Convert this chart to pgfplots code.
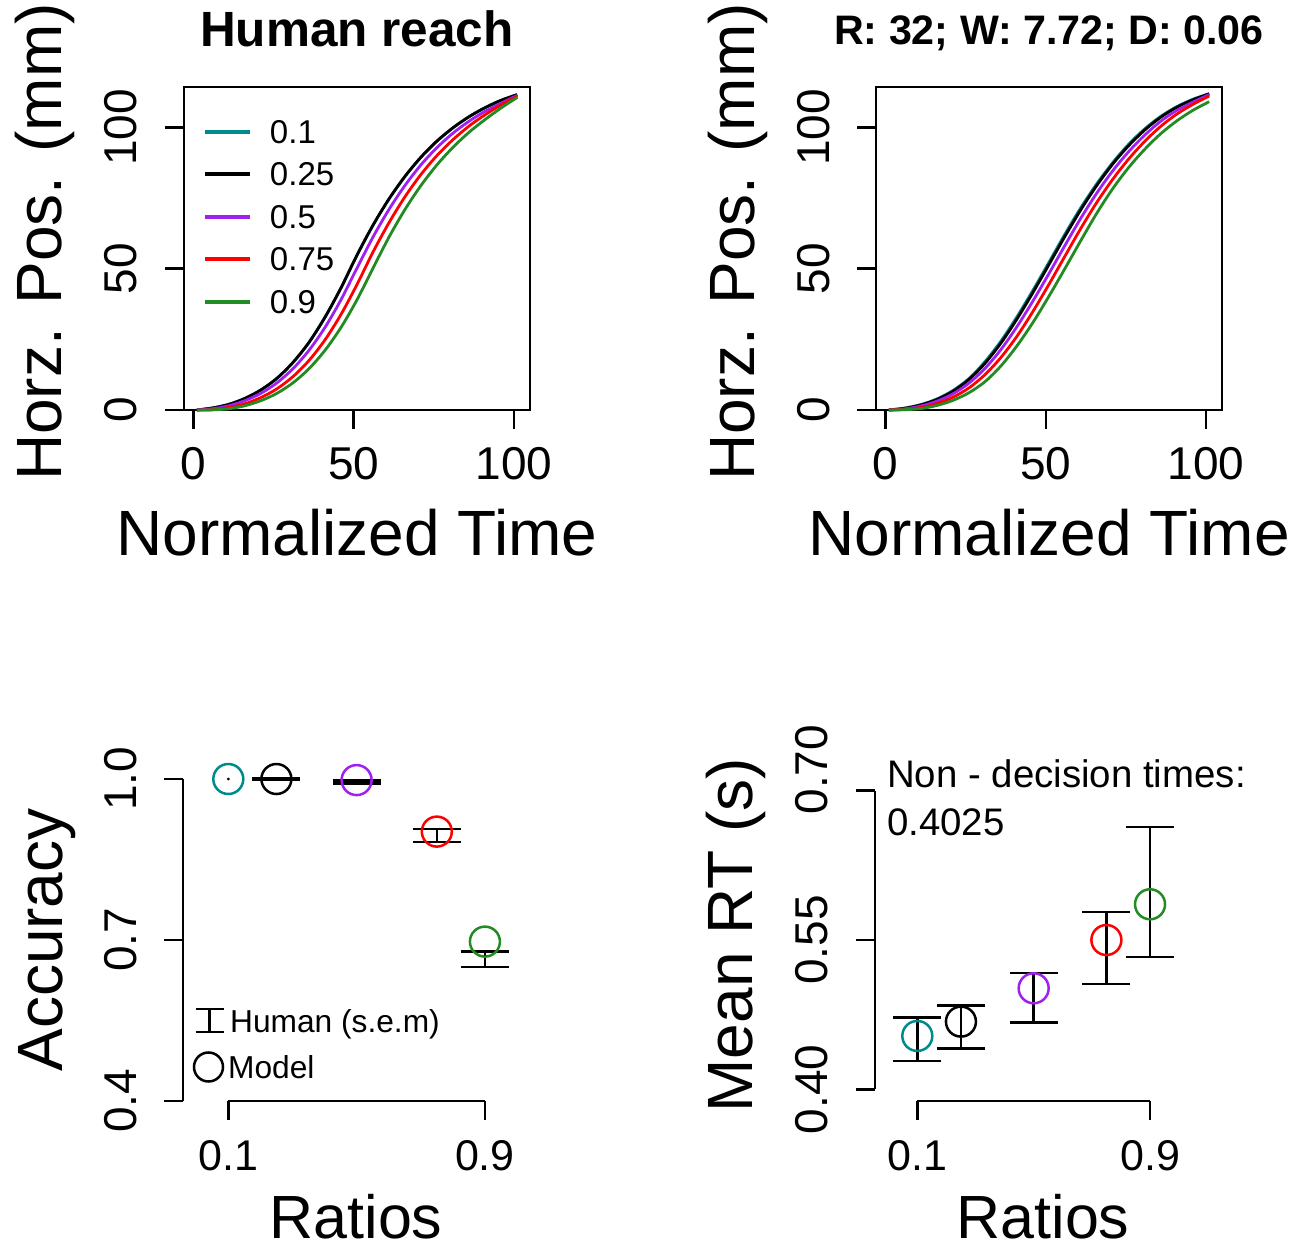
\documentclass[border=0pt]{standalone}
\usepackage{fontspec}
\setmainfont{Liberation Sans}
\usepackage{pgfplots}
\pgfplotsset{compat=1.18}

\definecolor{rteal}{RGB}{0,139,139}
\definecolor{rpurple}{RGB}{160,32,240}
\definecolor{rred}{RGB}{255,0,0}
\definecolor{rgreen}{RGB}{34,139,34}

\newcommand{\fs}[1]{\fontsize{#1}{#1}\selectfont}

\pgfplotsset{
  rbase/.style={
    scale only axis, clip=false, anchor=south west,
    tick align=outside, major tick length=19pt,
    tick style={black, line width=2.6pt},
    axis line style={black, line width=2.8pt},
    tick label style={font=\fs{46}, inner sep=0pt},
    label style={font=\fs{64}, inner sep=0pt},
    every axis title shift=0pt,
  },
  curve/.style={line width=2.8pt, smooth, mark=none},
  model/.style={only marks, mark=o, mark size=15pt, line width=2.5pt},
  human/.style={black, only marks, mark=text, text mark={}, line width=2.6pt,
    error bars/.cd, y dir=both, y explicit, error mark=|,
    error bar style={line width=2.6pt},
    error mark options={mark size=24pt, line width=2.6pt, black}},
}

\begin{document}
\begin{tikzpicture}
\path[use as bounding box] (0pt,0pt) rectangle (1308pt,1251pt);

% ---------------- top left: human reach
\begin{axis}[rbase, at={(184pt,841pt)}, width=346pt, height=323pt,
  xmin=-3, xmax=105, ymin=0, ymax=114.3,
  xtick={0,50,100}, xticklabels={0,50,100},
  ytick={0,50,100}, yticklabels={0,50,100},
  xtick pos=bottom, ytick pos=left,
  xticklabel style={anchor=base, yshift=-51pt},
  yticklabel style={xshift=-28pt, rotate=90, anchor=base},
  xlabel={Normalized Time}, ylabel={Horz. Pos. (mm)},
  xlabel style={at={(axis description cs:0.5,-0.452)}, anchor=base},
  ylabel style={at={(axis description cs:-0.3526,0.52)}, anchor=base},
  title={Human reach},
  title style={at={(axis description cs:0.5,1.1248)}, anchor=base, yshift=0pt, inner sep=0pt, font=\fs{49.5}\bfseries},
  legend cell align=left,
  legend image code/.code={\draw[#1, line width=4pt] (0pt,0pt) -- (45pt,0pt);},
  legend style={draw=none, fill=none, at={(axis description cs:0.0549,0.8978)},
    anchor=north west, inner sep=0pt, outer sep=0pt, font=\fs{33},
    row sep=19.5pt, column sep=18pt, nodes={inner sep=0pt, text depth=0pt}},
]
\addplot[curve, rteal] coordinates {(1,0)(6,0.75)(11,2.0)(16,4.1)(21,7.1)(26,11.2)(31,16.8)(36,23.9)(41,32.8)(46,43.2)(51,54.8)(56,65.4)(61,74.7)(66,82.7)(71,89.5)(76,95.2)(81,99.9)(86,103.8)(91,107.0)(96,109.6)(101,111.6)};
\addlegendentry{0.1}
\addplot[curve, black] coordinates {(1,0)(6,0.75)(11,2.0)(16,4.1)(21,7.1)(26,11.2)(31,16.8)(36,23.9)(41,32.8)(46,43.2)(51,54.8)(56,65.4)(61,74.7)(66,82.7)(71,89.5)(76,95.2)(81,99.9)(86,103.8)(91,107.0)(96,109.6)(101,111.6)};
\addlegendentry{0.25}
\addplot[curve, rpurple] coordinates {(1,0)(6,0.45)(11,1.5)(16,3.3)(21,5.9)(26,9.6)(31,14.6)(36,21.1)(41,29.2)(46,39.0)(51,50.2)(56,61.2)(61,71.0)(66,79.5)(71,86.8)(76,92.9)(81,98.0)(86,102.2)(91,105.7)(96,108.6)(101,111.3)};
\addlegendentry{0.5}
\addplot[curve, rred] coordinates {(1,0)(6,0.1)(11,0.9)(16,2.2)(21,4.4)(26,7.5)(31,11.8)(36,17.5)(41,24.8)(46,33.8)(51,44.4)(56,55.9)(61,66.3)(66,75.5)(71,83.4)(76,90.1)(81,95.7)(86,100.5)(91,104.5)(96,108.0)(101,111.0)};
\addlegendentry{0.75}
\addplot[curve, rgreen] coordinates {(1,0)(6,0.05)(11,0.45)(16,1.5)(21,3.3)(26,5.9)(31,9.6)(36,14.6)(41,21.1)(46,29.2)(51,39.0)(56,50.2)(61,61.2)(66,71.0)(71,79.5)(76,86.8)(81,93.0)(86,98.3)(91,102.8)(96,106.9)(101,110.6)};
\addlegendentry{0.9}
\end{axis}

% ---------------- top right: model
\begin{axis}[rbase, at={(876pt,841pt)}, width=346pt, height=323pt,
  xmin=-3, xmax=105, ymin=0, ymax=114.3,
  xtick={0,50,100}, xticklabels={0,50,100},
  ytick={0,50,100}, yticklabels={0,50,100},
  xtick pos=bottom, ytick pos=left,
  xticklabel style={anchor=base, yshift=-51pt},
  yticklabel style={xshift=-28pt, rotate=90, anchor=base},
  xlabel={Normalized Time}, ylabel={Horz. Pos. (mm)},
  xlabel style={at={(axis description cs:0.5,-0.452)}, anchor=base},
  ylabel style={at={(axis description cs:-0.3526,0.52)}, anchor=base},
  title={R: 32; W: 7.72; D: 0.06},
  title style={at={(axis description cs:0.5,1.130)}, anchor=base, yshift=0pt, inner sep=0pt, font=\fs{41.2}\bfseries},
]
\addplot[curve, rteal] coordinates {(1,0)(6,0.7)(11,1.9)(16,3.9)(21,6.9)(26,11.1)(31,17.1)(36,24.4)(41,33.0)(46,42.4)(51,52.3)(56,62.3)(61,71.7)(66,80.2)(71,87.7)(76,94.2)(81,99.6)(86,104.0)(91,107.4)(96,110.0)(101,111.9)};
\addplot[curve, black] coordinates {(1,0)(6,0.6)(11,1.8)(16,3.7)(21,6.6)(26,10.8)(31,16.5)(36,23.7)(41,32.2)(46,41.6)(51,51.5)(56,61.5)(61,71.0)(66,79.6)(71,87.2)(76,93.7)(81,99.2)(86,103.7)(91,107.2)(96,109.8)(101,111.9)};
\addplot[curve, rpurple] coordinates {(1,0)(6,0.4)(11,1.4)(16,3.1)(21,5.7)(26,9.5)(31,14.7)(36,21.4)(41,29.5)(46,38.6)(51,48.3)(56,58.3)(61,68.0)(66,76.9)(71,84.8)(76,91.6)(81,97.4)(86,102.3)(91,106.1)(96,109.0)(101,111.6)};
\addplot[curve, rred] coordinates {(1,0)(6,0.2)(11,0.9)(16,2.3)(21,4.5)(26,7.8)(31,12.5)(36,18.6)(41,26.1)(46,34.9)(51,44.5)(56,54.5)(61,64.4)(66,73.6)(71,81.8)(76,89.0)(81,95.2)(86,100.5)(91,104.8)(96,108.2)(101,111.1)};
\addplot[curve, rgreen] coordinates {(1,0)(6,0.1)(11,0.5)(16,1.6)(21,3.4)(26,6.1)(31,10.0)(36,15.6)(41,22.7)(46,31.0)(51,40.3)(56,50.1)(61,60.1)(66,69.8)(71,78.5)(76,86.0)(81,92.4)(86,97.9)(91,102.4)(96,106.1)(101,109.1)};
\end{axis}

% ---------------- bottom left: accuracy
\begin{axis}[rbase, at={(183pt,150pt)}, width=346pt, height=322pt,
  xmin=-0.0412, xmax=1.0374, ymin=0.4, ymax=1.0,
  axis x line*=bottom, axis y line*=left, axis line style={draw=none},
  xtick={0.1,0.9}, xticklabels={0.1,0.9},
  ytick={0.4,0.7,1.0}, yticklabels={0.4,0.7,1.0},
  xticklabel style={anchor=base, yshift=-50.5pt, font=\fs{43}},
  yticklabel style={xshift=-27pt, rotate=90, anchor=base},
  xlabel={Ratios}, ylabel={Accuracy},
  xlabel style={at={(axis description cs:0.5,-0.4255)}, anchor=base, font=\fs{61}},
  ylabel style={at={(axis description cs:-0.3497,0.5)}, anchor=base},
]
\draw[line width=2.8pt] (axis cs:-0.0412,0.4) -- (axis cs:-0.0412,1.0);
\draw[line width=2.8pt] (axis cs:0.1,0.4) -- (axis cs:0.9,0.4);
\addplot[model, rteal] coordinates {(0.1,1.0)};
\addplot[model, black] coordinates {(0.25,1.0)};
\addplot[model, rpurple] coordinates {(0.5,0.998)};
\addplot[model, rred] coordinates {(0.75,0.902)};
\addplot[model, rgreen] coordinates {(0.9,0.697)};
\addplot[black, only marks, mark=*, mark size=1.2pt] coordinates {(0.1,1.0)};
\addplot[human] coordinates {
  (0.25,1.0) +- (0,0.0005)
  (0.5,0.9944) +- (0,0.0024)
  (0.75,0.8947) +- (0,0.0121)
  (0.9,0.664) +- (0,0.0143)
};
\end{axis}

% ---------------- bottom right: mean RT
\begin{axis}[rbase, at={(875pt,150pt)}, width=336pt, height=322pt,
  xmin=-0.0454, xmax=1.1096, ymin=0.38824, ymax=0.71176,
  axis x line*=bottom, axis y line*=left, axis line style={draw=none},
  xtick={0.1,0.9}, xticklabels={0.1,0.9},
  ytick={0.4,0.55,0.7}, yticklabels={0.40,0.55,{\hspace*{42pt}0.70}},
  xticklabel style={anchor=base, yshift=-50.5pt, font=\fs{43}},
  yticklabel style={xshift=-29pt, rotate=90, anchor=base},
  xlabel={Ratios}, ylabel={Mean RT (s)},
  xlabel style={at={(axis description cs:0.5,-0.4255)}, anchor=base, font=\fs{61}},
  ylabel style={at={(axis description cs:-0.366,0.515)}, anchor=base},
]
\draw[line width=2.8pt] (axis cs:-0.0454,0.4) -- (axis cs:-0.0454,0.7);
\draw[line width=2.8pt] (axis cs:0.1,0.38824) -- (axis cs:0.9,0.38824);
\addplot[model, rteal] coordinates {(0.1,0.4536)};
\addplot[model, black] coordinates {(0.25,0.468)};
\addplot[model, rpurple] coordinates {(0.5,0.5015)};
\addplot[model, rred] coordinates {(0.75,0.550)};
\addplot[model, rgreen] coordinates {(0.9,0.5859)};
\addplot[human] coordinates {
  (0.1,0.4502) +- (0,0.0218)
  (0.25,0.4628) +- (0,0.0216)
  (0.5,0.4918) +- (0,0.0249)
  (0.75,0.5420) +- (0,0.0362)
  (0.9,0.5982) +- (0,0.0652)
};
\end{axis}

% legend of the accuracy panel
\draw[line width=2.2pt] (195.5pt,242pt) -- (223.5pt,242pt)
  (195.5pt,219.3pt) -- (223.5pt,219.3pt) (209.5pt,242pt) -- (209.5pt,219.3pt);
\node[anchor=base west, inner sep=0pt, font=\fs{31.7}] at (230pt,219pt) {Human (s.e.m)};
\draw[line width=2.5pt] (208.5pt,184pt) circle (14.5pt);
\node[anchor=base west, inner sep=0pt, font=\fs{31.7}] at (228pt,173pt) {Model};

% annotation of the RT panel
\node[anchor=base west, inner sep=0pt, font=\fs{38.4}] at (887pt,464pt) {Non - decision times:};
\node[anchor=base west, inner sep=0pt, font=\fs{38.4}] at (887pt,416pt) {0.4025};
\end{tikzpicture}
\end{document}
